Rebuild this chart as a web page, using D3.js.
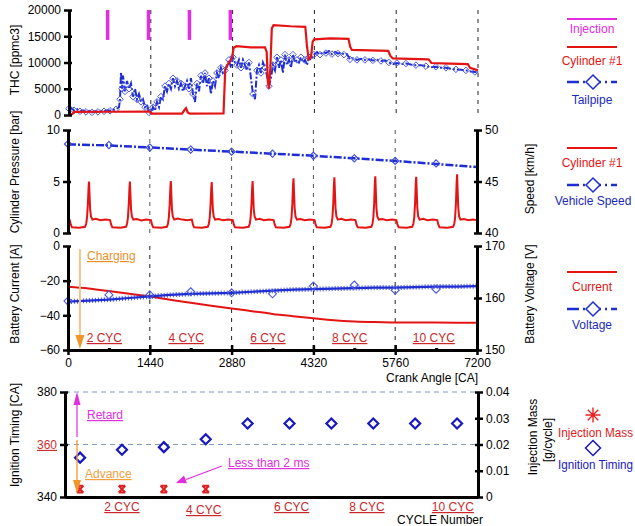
<!DOCTYPE html>
<html><head><meta charset="utf-8">
<script src="https://cdn.jsdelivr.net/npm/d3@7"></script>
<style>body{margin:0;background:#fff}</style>
</head><body>
<script>
// ---------------- DATA ----------------
const caTicks = [0,1440,2880,4320,5760,7200];
const caMinor = [720,2160,3600,5040,6480];
const cycleLines = [1440,2880,4320,5760,7200];
const thcTicks = [0,5000,10000,15000,20000];
const presTicks = [0,5,10];
const speedTicks = [40,45,50];
const currTicks = [0,-20,-40,-60];
const voltTicks = [150,160,170];
const ignTicks = [340,360,380];
const massTicks = [0,0.01,0.02,0.03,0.04];

const injectionCA = [680,1400,2120,2840];
const injectionRange = [14300,20000];

const cylTHC = [[0,100],[60,200],[90,600],[700,620],[1420,650],[1450,250],[1990,250],[2030,900],[2060,1300],[2090,500],[2130,250],[2720,300],[2750,8500],[2790,9500],[2830,10200],[2870,11000],[2900,12800],[2950,13100],[3200,12900],[3450,12900],[3480,12000],[3500,6500],[3520,5000],[3545,9000],[3570,16500],[3600,17100],[3900,16900],[4160,16800],[4190,13000],[4220,10600],[4260,11000],[4290,14000],[4320,14400],[4600,14600],[4920,14500],[4950,13000],[4980,12400],[5300,12300],[5620,12200],[5660,11200],[5700,10800],[6000,10700],[6330,10600],[6380,9900],[6700,9800],[7020,9700],[7060,9000],[7200,8500]];

const tailTHC = [[0,1200],[35,1400],[88,900],[141,1100],[194,700],[246,900],[299,600],[352,800],[405,500],[458,700],[510,600],[563,800],[616,700],[669,900],[722,800],[774,1000],[827,1100],[880,1500],[898,3000],[915,8200],[933,5000],[950,7500],[986,4500],[1021,6500],[1056,5000],[1091,6000],[1126,3500],[1162,5000],[1197,3000],[1232,4000],[1267,2500],[1302,3000],[1338,1500],[1373,2000],[1408,500],[1443,300],[1478,1500],[1514,800],[1549,2500],[1584,1500],[1619,3500],[1654,3000],[1690,5500],[1725,4500],[1760,6000],[1795,5000],[1830,7000],[1866,5500],[1901,6500],[1936,5000],[1971,6000],[2006,4500],[2042,5500],[2077,6500],[2112,5000],[2147,7000],[2182,4000],[2218,2500],[2253,6000],[2288,4500],[2323,7500],[2358,6000],[2394,8000],[2429,5500],[2464,7000],[2499,4000],[2534,6500],[2570,5500],[2605,8000],[2640,7000],[2675,9000],[2710,8000],[2746,8500],[2781,9500],[2816,10500],[2851,9000],[2886,11000],[2922,10000],[2957,9500],[2992,10500],[3027,9000],[3062,10500],[3098,9500],[3133,8500],[3168,10000],[3203,7000],[3238,4000],[3274,3000],[3309,8500],[3344,9500],[3379,8000],[3414,10000],[3450,9000],[3485,7500],[3520,5500],[3555,7000],[3590,9500],[3626,8500],[3661,11000],[3696,9000],[3731,10500],[3766,8000],[3802,11500],[3837,9500],[3872,10500],[3907,9000],[3942,11500],[3978,10000],[4013,10500],[4048,10000],[4083,11000],[4118,10000],[4154,10500],[4189,9500],[4224,11000],[4259,10500],[4312,11500],[4365,12000],[4418,11500],[4470,12000],[4523,11800],[4576,12200],[4629,11600],[4682,12000],[4734,11700],[4787,11900],[4840,11500],[4893,11600],[4946,10600],[4998,10800],[5069,10500],[5139,10700],[5210,10500],[5280,10600],[5350,10400],[5421,10500],[5491,10300],[5562,10400],[5632,10000],[5702,9700],[5773,9900],[5843,9700],[5931,9800],[6019,9600],[6107,9500],[6195,9500],[6283,9300],[6371,9100],[6459,9200],[6547,9000],[6635,9000],[6723,8800],[6811,8700],[6899,8600],[6987,8500],[7075,8300],[7146,8200],[7200,8100]];

const cylPressure = [[0,1.3],[30,1.25],[50,0.8],[70,0.55],[200,0.5],[300,0.6],
[320,0.9],[335,1.5],[350,2.8],[362,4.4],[370,5.0],[378,3.9],[390,2.3],[405,1.6],[430,1.3],[490,1.38],[570,1.25],[660,1.3],[740,1.25],[760,0.8],[780,0.55],[920,0.5],[1020,0.6],
[1040,0.9],[1055,1.5],[1070,2.8],[1082,4.4],[1090,5.0],[1098,3.9],[1110,2.3],[1125,1.6],[1150,1.3],[1210,1.35],[1290,1.22],[1380,1.3],[1460,1.25],[1480,0.8],[1500,0.55],[1640,0.5],[1740,0.6],
[1760,0.9],[1775,1.5],[1790,2.8],[1802,4.4],[1810,5.05],[1818,3.9],[1830,2.3],[1845,1.6],[1870,1.3],[1930,1.4],[2010,1.3],[2100,1.25],[2180,1.3],[2200,0.8],[2220,0.55],[2360,0.5],[2460,0.6],
[2480,0.9],[2495,1.5],[2510,2.8],[2522,4.3],[2530,4.95],[2538,3.9],[2550,2.3],[2565,1.6],[2590,1.3],[2650,1.35],[2730,1.25],[2820,1.3],[2900,1.25],[2920,0.8],[2940,0.55],[3080,0.5],[3180,0.6],
[3200,0.9],[3215,1.5],[3230,2.8],[3242,4.4],[3250,5.05],[3258,3.9],[3270,2.3],[3285,1.6],[3310,1.3],[3370,1.38],[3450,1.25],[3540,1.3],[3620,1.25],[3640,0.8],[3660,0.55],[3800,0.5],[3900,0.6],
[3920,0.9],[3935,1.5],[3950,2.9],[3962,4.7],[3970,5.3],[3978,4.1],[3990,2.4],[4005,1.6],[4030,1.3],[4090,1.35],[4170,1.25],[4260,1.3],[4340,1.25],[4360,0.8],[4380,0.55],[4520,0.5],[4620,0.6],
[4640,0.9],[4655,1.5],[4670,2.9],[4682,4.8],[4690,5.4],[4698,4.1],[4710,2.4],[4725,1.6],[4750,1.3],[4810,1.38],[4890,1.25],[4980,1.3],[5060,1.25],[5080,0.8],[5100,0.55],[5240,0.5],[5340,0.6],
[5360,0.9],[5375,1.5],[5390,2.9],[5402,4.9],[5410,5.5],[5418,4.2],[5430,2.4],[5445,1.6],[5470,1.3],[5530,1.35],[5610,1.25],[5700,1.3],[5780,1.25],[5800,0.8],[5820,0.55],[5960,0.5],[6060,0.6],
[6080,0.9],[6095,1.5],[6110,2.9],[6122,4.8],[6130,5.45],[6138,4.2],[6150,2.4],[6165,1.6],[6190,1.3],[6250,1.38],[6330,1.25],[6420,1.3],[6500,1.25],[6520,0.8],[6540,0.55],[6680,0.5],[6780,0.6],
[6800,0.9],[6815,1.5],[6830,3.0],[6842,5.0],[6850,5.7],[6858,4.3],[6870,2.5],[6885,1.6],[6910,1.3],[6970,1.35],[7050,1.25],[7130,1.3],[7200,1.25]];

const speedLine = [[0,48.6],[720,48.5],[1440,48.3],[2160,48.1],[2880,47.9],[3600,47.7],[4320,47.5],[5040,47.25],[5760,47.0],[6480,46.7],[7200,46.4]];
const speedMarks = [[0,48.64],[720,48.54],[1440,48.3],[2160,48.1],[2880,47.9],[3600,47.7],[4320,47.5],[5040,47.25],[5760,47.0],[6480,46.75]];

const currentLine = [[0,-23.5],[360,-24.5],[720,-26],[1080,-27.5],[1440,-29.2],[1800,-31],[2160,-32.8],[2520,-34.5],[2880,-36],[3240,-37.6],[3600,-39.2],[3960,-40.5],[4320,-41.7],[4680,-42.8],[5040,-43.5],[5400,-43.9],[5760,-44.1],[6480,-44.2],[7200,-44.3]];
const voltageLine = [[0,159.3],[360,159.5],[720,159.7],[1080,160],[1440,160.3],[1800,160.6],[2160,160.8],[2520,160.9],[2880,161.0],[3240,161.2],[3600,161.4],[3960,161.6],[4320,161.7],[4680,161.8],[5040,161.9],[5400,162],[5760,162.0],[6120,162.1],[6480,162.2],[6840,162.2],[7200,162.3]];
const voltageMarks = [[0,159.4],[720,160.6],[1440,160.6],[2160,161.2],[2880,161.0],[3600,160.8],[4320,162.3],[5040,162.5],[5760,161.5],[6480,161.7]];

const cycles = [1,2,3,4,5,6,7,8,9,10];
const ignitionTiming = [355,358,359,362,368,368,368,368,368,368];
const massCycles = [1,2,3,4];
const injectionMass = [0.003,0.003,0.003,0.003];

const cycLabelsTop = ['2 CYC','4 CYC','6 CYC','8 CYC','10 CYC'];
const cycLabelsTopCA = [640,2080,3520,4960,6440];
const cycLabelsBot = ['2 CYC','4 CYC','6 CYC','8 CYC','10 CYC'];
const cycLabelsBotPos = [2.0,3.95,6.05,7.85,9.9];

// ---------------- COLORS ----------------
const RED='#e41414', BLUE='#1e2ed2', MAG='#e22ee0', ORA='#f0962a', CYC='#c8282a';

// ---------------- SVG ----------------
const svg = d3.select('body').append('svg').attr('width',635).attr('height',526)
  .style('font-family','"Liberation Sans",Arial,sans-serif');

const x1 = d3.scaleLinear([0,7200],[69,478]);
const x = d3.scaleLinear([0,7200],[68,477]);
const yT = d3.scaleLinear([0,20000],[115,10]);
const yP = d3.scaleLinear([0,10],[233,130]);
const yS = d3.scaleLinear([40,50],[233,130]);
const yC = d3.scaleLinear([-60,0],[350,246]);
const yV = d3.scaleLinear([150,170],[350,246]);
const xc = d3.scaleLinear([0.64,10.5],[65,478]);
const yI = d3.scaleLinear([340,380],[497,392]);
const yM = d3.scaleLinear([0,0.04],[497,392]);

function styleAxis(g){
  g.attr('font-family',null).attr('font-size',null);
  g.select('.domain').attr('stroke-width',3).attr('stroke','#000');
  g.selectAll('.tick line').attr('stroke-width',2.5).attr('stroke','#000');
  g.selectAll('.tick text').attr('font-size',12).attr('fill','#000');
}
function leftAxis(scale,xp,ticks,fmt){
  const g=svg.append('g').attr('transform',`translate(${xp},0)`)
    .call(d3.axisLeft(scale).tickValues(ticks).tickSizeInner(5).tickSizeOuter(0).tickPadding(3).tickFormat(fmt||d3.format('d')));
  styleAxis(g); g.selectAll('.tick line').attr('x1',3); return g;
}
function rightAxis(scale,xp,ticks,fmt){
  const g=svg.append('g').attr('transform',`translate(${xp},0)`)
    .call(d3.axisRight(scale).tickValues(ticks).tickSizeInner(5).tickSizeOuter(0).tickPadding(3).tickFormat(fmt||d3.format('d')));
  styleAxis(g); g.selectAll('.tick line').attr('x1',-3); return g;
}
function vDash(xs,scale,y0,y1,color){
  svg.append('g').selectAll('line').data(xs).join('line')
    .attr('x1',d=>scale(d)).attr('x2',d=>scale(d)).attr('y1',y0).attr('y2',y1)
    .attr('stroke',color).attr('stroke-width',1).attr('stroke-dasharray','4,5');
}
const diamond = r => `M0,${-r}L${r},0L0,${r}L${-r},0Z`;
function label(txt,xp,yp,opt={}){
  const t=svg.append('text').attr('x',xp).attr('y',yp).text(txt)
    .attr('font-size',opt.size||12).attr('fill',opt.fill||'#000')
    .attr('text-anchor',opt.anchor||'start');
  if(opt.u) t.attr('text-decoration','underline');
  if(opt.rot) t.attr('transform',`rotate(-90,${xp},${yp})`);
  if(opt.len) t.attr('textLength',opt.len).attr('lengthAdjust','spacingAndGlyphs');
  return t;
}
function tri(tip,base1,base2,fill){
  svg.append('path').attr('d',`M${tip[0]},${tip[1]}L${base1[0]},${base1[1]}L${base2[0]},${base2[1]}Z`).attr('fill',fill);
}

// ---------- Panel 1 : THC ----------
vDash(cycleLines,x1,10,115,'#222');
svg.append('g').selectAll('line').data(injectionCA).join('line')
  .attr('x1',d=>x1(d)).attr('x2',d=>x1(d)).attr('y1',yT(injectionRange[0])).attr('y2',yT(injectionRange[1]))
  .attr('stroke',MAG).attr('stroke-width',3.5);
const lT = d3.line().x(d=>x1(d[0])).y(d=>yT(d[1]));
svg.append('path').datum(tailTHC).attr('d',lT).attr('fill','none').attr('stroke',BLUE).attr('stroke-width',2).attr('stroke-dasharray','7,2,2,2');
svg.append('g').selectAll('path').data(tailTHC.filter((d,i)=>i%2===0)).join('path')
  .attr('d',diamond(3.3)).attr('transform',d=>`translate(${x1(d[0])},${yT(d[1])})`)
  .attr('fill','none').attr('stroke','#4a58e0').attr('stroke-width',1);
svg.append('path').datum(cylTHC).attr('d',lT).attr('fill','none').attr('stroke',RED).attr('stroke-width',2.2);
leftAxis(yT,69,thcTicks);
label('THC [ppmc3]',19,60,{rot:true,anchor:'middle'});

// ---------- Panel 2 : Pressure / speed ----------
vDash(cycleLines.slice(0,4),x,130,233,'#555');
const lP = d3.line().x(d=>x(d[0])).y(d=>yP(d[1]));
svg.append('path').datum(cylPressure).attr('d',lP).attr('fill','none').attr('stroke',RED).attr('stroke-width',2);
const lS = d3.line().x(d=>x(d[0])).y(d=>yS(d[1]));
svg.append('path').datum(speedLine).attr('d',lS).attr('fill','none').attr('stroke',BLUE).attr('stroke-width',2.5).attr('stroke-dasharray','8,2,2,2');
svg.append('g').selectAll('path').data(speedMarks).join('path')
  .attr('d',diamond(3.6)).attr('transform',d=>`translate(${x(d[0])},${yS(d[1])})`)
  .attr('fill','none').attr('stroke','#3b48d8').attr('stroke-width',1.1);
leftAxis(yP,68,presTicks);
rightAxis(yS,477,speedTicks);
label('Cylinder Pressure [bar]',19,172,{rot:true,anchor:'middle'});
label('Speed [km/h]',534,179,{rot:true,anchor:'middle'});

// ---------- Panel 3 : Battery ----------
vDash(cycleLines.slice(0,4),x,246,350,'#222');
const lC = d3.line().x(d=>x(d[0])).y(d=>yC(d[1]));
svg.append('path').datum(currentLine).attr('d',lC.curve(d3.curveMonotoneX)).attr('fill','none').attr('stroke',RED).attr('stroke-width',2);
const lV = d3.line().x(d=>x(d[0])).y(d=>yV(d[1]));
svg.append('path').datum(voltageLine).attr('d',lV).attr('fill','none').attr('stroke',BLUE).attr('stroke-width',2.2);
svg.append('path').datum(voltageLine).attr('d',lV).attr('fill','none').attr('stroke',BLUE).attr('stroke-width',5).attr('stroke-dasharray','1,2').attr('opacity',0.8);
svg.append('g').selectAll('path').data(voltageMarks).join('path')
  .attr('d',diamond(4)).attr('transform',d=>`translate(${x(d[0])},${yV(d[1])})`)
  .attr('fill','none').attr('stroke','#4a58e0').attr('stroke-width',1.1);
leftAxis(yC,68,currTicks);
rightAxis(yV,477,voltTicks);
const gx = svg.append('g').attr('transform','translate(0,350)')
  .call(d3.axisBottom(x).tickValues(caTicks).tickSizeInner(5).tickSizeOuter(0).tickPadding(3).tickFormat(d3.format('d')));
styleAxis(gx); gx.selectAll('.tick line').attr('y1',-5);
const gm = svg.append('g').attr('transform','translate(0,350)')
  .call(d3.axisBottom(x).tickValues(caMinor).tickSizeInner(2).tickSizeOuter(0).tickFormat(''));
gm.select('.domain').remove(); gm.selectAll('.tick line').attr('y1',-2).attr('stroke-width',3);
label('Battery Current [A]',19,294,{rot:true,anchor:'middle'});
label('Battery Voltage [V]',534,294,{rot:true,anchor:'middle'});
label('Crank Angle [CA]',432,382,{anchor:'middle'});
// charging annotation
svg.append('line').attr('x1',x(210)).attr('x2',x(210)).attr('y1',249).attr('y2',337).attr('stroke','#f5c38a').attr('stroke-width',2);
tri([x(210),349],[x(210)-4.5,335],[x(210)+4.5,335],ORA);
label('Charging',87,260,{fill:'#e8902a',u:true});
cycLabelsTop.forEach((t,i)=>label(t,x(cycLabelsTopCA[i]),342,{fill:CYC,u:true,anchor:'middle'}));

// ---------- Panel 4 : Ignition / injection ----------
svg.append('g').selectAll('line').data([380,360]).join('line')
  .attr('x1',65).attr('x2',478).attr('y1',d=>yI(d)).attr('y2',d=>yI(d))
  .attr('stroke','#7f9cbc').attr('stroke-width',1).attr('stroke-dasharray','5,4');
svg.append('g').selectAll('path').data(cycles).join('path')
  .attr('d',diamond(5)).attr('transform',(d,i)=>`translate(${xc(d)},${yI(ignitionTiming[i])})`)
  .attr('fill','none').attr('stroke','#1818c0').attr('stroke-width',2.2);
const xMark = s=>`M${-s},${-s}H${s}M${-s},${s}H${s}M${-s},${-s}L${s},${s}M${s},${-s}L${-s},${s}`;
svg.append('g').selectAll('path').data(massCycles).join('path')
  .attr('d',xMark(3.3)).attr('transform',(d,i)=>`translate(${xc(d)},${yM(injectionMass[i])})`)
  .attr('fill','none').attr('stroke','#e02020').attr('stroke-width',2);
const gl4 = leftAxis(yI,65,ignTicks);
gl4.selectAll('.tick text').filter(d=>d===360).attr('fill','#c83030').attr('text-decoration','underline');
rightAxis(yM,478,massTicks,d=>d===0?'0':d.toFixed(2));
const gb4 = svg.append('g').attr('transform','translate(0,497)').call(d3.axisBottom(xc).tickValues([]).tickSizeOuter(0));
styleAxis(gb4);
label('Ignition Timing [CA]',19,435,{rot:true,anchor:'middle'});
label('Injection Mass',537,437,{rot:true,anchor:'middle'});
label('[g/cycle]',552,440,{rot:true,anchor:'middle'});
label('CYCLE Number',440,524,{anchor:'middle'});
cycLabelsBot.forEach((t,i)=>label(t,xc(cycLabelsBotPos[i]),i===1?514:511,{fill:CYC,u:true,anchor:'middle'}));
// retard / advance arrows
svg.append('line').attr('x1',77).attr('x2',77).attr('y1',437).attr('y2',402).attr('stroke',MAG).attr('stroke-width',1.2);
tri([77,392],[73.5,405],[80.5,405],MAG);
svg.append('line').attr('x1',77).attr('x2',77).attr('y1',440).attr('y2',482).attr('stroke','#f0a040').attr('stroke-width',1.4);
tri([77,493],[73,480],[81,480],ORA);
label('Retard',87,419,{fill:MAG,u:true});
label('Advance',85,478,{fill:'#f0a040',u:true});
label('Less than 2 ms',228,467,{fill:MAG,u:true});
svg.append('line').attr('x1',222).attr('y1',466).attr('x2',186).attr('y2',479.5).attr('stroke',MAG).attr('stroke-width',1.2);
tri([176,483],[187,483.2],[184,475.6],MAG);

// ---------------- LEGENDS ----------------
const LX0=567, LX1=617, LC=592;
function legLine(y,color,w){ svg.append('line').attr('x1',LX0).attr('x2',LX1).attr('y1',y).attr('y2',y).attr('stroke',color).attr('stroke-width',w||2); }
function legDash(y,r){
  svg.append('line').attr('x1',LX0).attr('x2',LX1).attr('y1',y).attr('y2',y).attr('stroke',BLUE).attr('stroke-width',2.5).attr('stroke-dasharray','12,4,2,4');
  svg.append('path').attr('d',diamond(r)).attr('transform',`translate(${LC+1},${y})`).attr('fill','#fff').attr('stroke',BLUE).attr('stroke-width',1.5);
}
legLine(19,MAG,2); label('Injection',LC,33,{fill:MAG,anchor:'middle'});
legLine(47,RED,2); label('Cylinder #1',LC,65,{fill:RED,anchor:'middle'});
legDash(82,7); label('Tailpipe',LC,104,{fill:'#1a2ab8',anchor:'middle'});
legLine(148,RED,2); label('Cylinder #1',LC,167,{fill:RED,anchor:'middle'});
legDash(185,7); label('Vehicle Speed',593,205,{fill:'#1a2ab8',anchor:'middle'});
legLine(272,RED,2); label('Current',LC,291,{fill:RED,anchor:'middle'});
legDash(309,7); label('Voltage',LC,329,{fill:'#1a2ab8',anchor:'middle'});
const ast = s=>`M${-s},0H${s}M0,${-s}V${s}M${-s*0.7},${-s*0.7}L${s*0.7},${s*0.7}M${-s*0.7},${s*0.7}L${s*0.7},${-s*0.7}`;
svg.append('path').attr('d',ast(7.5)).attr('transform','translate(593,415)').attr('stroke','#e82020').attr('stroke-width',1.4).attr('fill','none');
label('Injection Mass',558,437,{fill:'#e02020',len:75});
svg.append('path').attr('d',diamond(7.5)).attr('transform','translate(593,448)').attr('fill','none').attr('stroke','#1818c0').attr('stroke-width',1.5);
label('Ignition Timing',558,469,{fill:'#1818c0',len:75});
</script>
</body></html>
